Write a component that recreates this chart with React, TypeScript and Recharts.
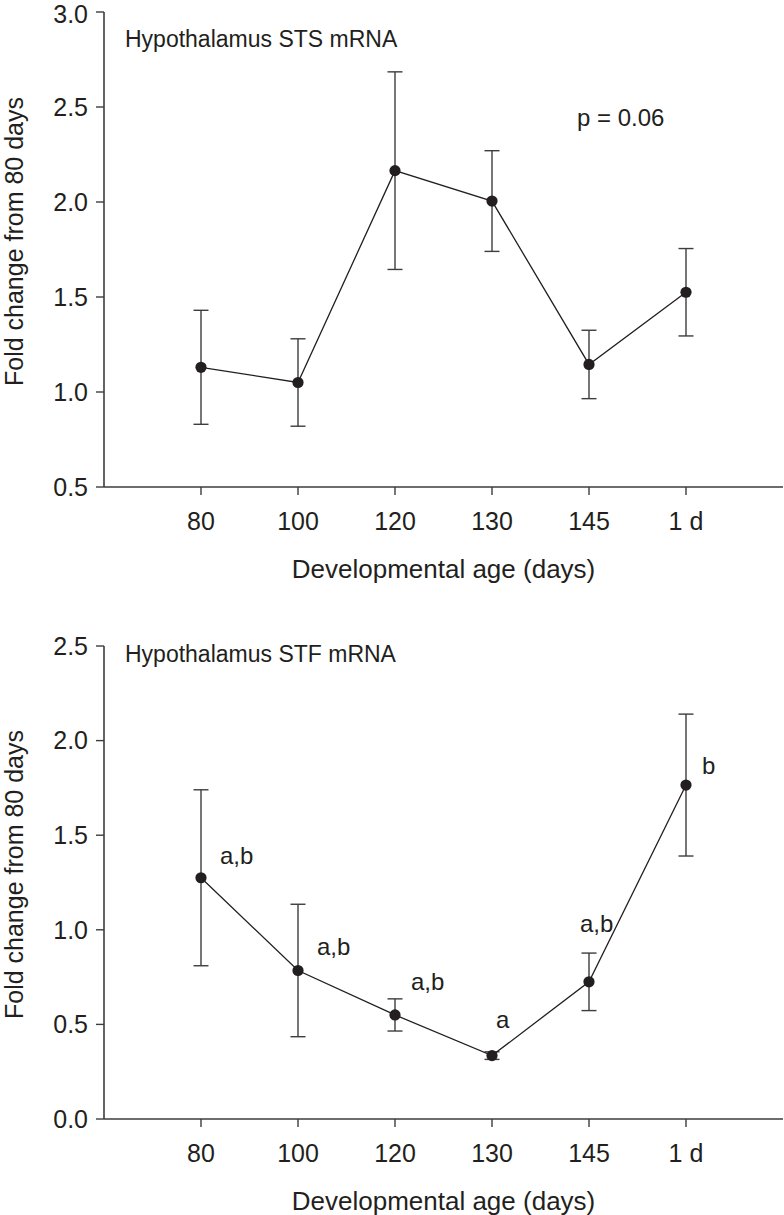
import React from "react";
import { LineChart, Line, XAxis, YAxis, ErrorBar, LabelList } from "recharts";

const categories = ["80", "100", "120", "130", "145", "1 d"];

// Hypothalamus STS mRNA
const stsMean = [1.13, 1.05, 2.165, 2.005, 1.145, 1.525];
const stsErr = [0.3, 0.23, 0.52, 0.265, 0.18, 0.23];
const stsTicks = [0.5, 1, 1.5, 2, 2.5, 3];

// Hypothalamus STF mRNA
const stfMean = [1.275, 0.785, 0.55, 0.335, 0.725, 1.765];
const stfErr = [0.465, 0.35, 0.085, 0.02, 0.152, 0.375];
const stfLetters = ["a,b", "a,b", "a,b", "a", "a,b", "b"];
const stfTicks = [0, 0.5, 1, 1.5, 2, 2.5];

// where each letter sits relative to its dot (dx, dy)
const letterOffsets = [
  [19, -22],
  [19, -24],
  [16, -33],
  [4, -36],
  [-9, -58],
  [16, -20],
];

const INK = "#231f20";
const AXIS = "#3d3d3d";
const FONT = "'Liberation Sans', Arial, Helvetica, sans-serif";

const stsRows = categories.map((c, i) => ({ idx: i, mean: stsMean[i], err: stsErr[i] }));
const stfRows = categories.map((c, i) => ({
  idx: i,
  mean: stfMean[i],
  err: stfErr[i],
  letter: stfLetters[i],
}));

const YTitle = (props: any) => {
  const vb = props.viewBox || {};
  const cx = 14;
  const cy = vb.y + vb.height / 2 - 8;
  return (
    <text
      x={cx}
      y={cy}
      dy="0.355em"
      transform={`rotate(-90 ${cx} ${cy})`}
      textAnchor="middle"
      fill={INK}
      fontSize={25}
      fontFamily={FONT}
    >
      Fold change from 80 days
    </text>
  );
};

const Letter = (p: any) => {
  const i = p.index;
  const x = p.x ?? p.viewBox?.x;
  const y = p.y ?? p.viewBox?.y;
  if (x == null || y == null) return null;
  const [dx, dy] = letterOffsets[i];
  return (
    <text x={x + dx} y={y + dy} dy="0.355em" fill={INK} fontSize={24} fontFamily={FONT}>
      {p.value}
    </text>
  );
};

interface PanelProps {
  rows: any[];
  domain: [number, number];
  ticks: number[];
  height: number;
  top: number;
  bottom: number;
  letters?: boolean;
}

function Panel({ rows, domain, ticks, height, top, bottom, letters }: PanelProps) {
  const tickStyle = { fill: INK, fontSize: 25, fontFamily: FONT };
  return (
    <LineChart width={784} height={height} data={rows} margin={{ top, right: 1, bottom, left: 0 }}>
      <XAxis
        type="number"
        dataKey="idx"
        domain={[-1, 6]}
        ticks={[0, 1, 2, 3, 4, 5]}
        tickFormatter={(v: number) => categories[v]}
        allowDecimals={false}
        height={60}
        tickSize={8}
        tickMargin={17}
        tick={tickStyle}
        axisLine={{ stroke: AXIS, strokeWidth: 1.6 }}
        tickLine={{ stroke: AXIS, strokeWidth: 1.4 }}
        label={{
          value: "Developmental age (days)",
          position: "bottom",
          offset: 13,
          fill: INK,
          fontSize: 26,
          fontFamily: FONT,
        }}
      />
      <YAxis
        type="number"
        domain={domain}
        ticks={ticks}
        width={104}
        tickFormatter={(v: number) => v.toFixed(1)}
        tickSize={8}
        tickMargin={8}
        tick={tickStyle}
        axisLine={{ stroke: AXIS, strokeWidth: 1.6 }}
        tickLine={{ stroke: AXIS, strokeWidth: 1.4 }}
        label={<YTitle />}
      />
      <Line
        type="linear"
        dataKey="mean"
        stroke={INK}
        strokeWidth={1.3}
        dot={{ r: 5.6, fill: INK, stroke: "none" }}
        activeDot={false}
        isAnimationActive={false}
      >
        <ErrorBar dataKey="err" direction="y" width={7.5} stroke={AXIS} strokeWidth={1.4} />
        {letters && <LabelList dataKey="letter" content={<Letter />} />}
      </Line>
    </LineChart>
  );
}

const textStyle: React.CSSProperties = {
  position: "absolute",
  fontFamily: FONT,
  fontSize: 23,
  lineHeight: "24px",
  color: INK,
  whiteSpace: "nowrap",
};

export default function App() {
  return (
    <div style={{ position: "absolute", left: 0, top: 0, width: 784, height: 1215, background: "#fff" }}>
      <div style={{ position: "absolute", left: 0, top: 0 }}>
        <Panel rows={stsRows} domain={[0.5, 3]} ticks={stsTicks} height={600} top={12} bottom={53} />
      </div>
      <div style={{ position: "absolute", left: 0, top: 600 }}>
        <Panel rows={stfRows} domain={[0, 2.5]} ticks={stfTicks} height={615} top={46} bottom={36} letters />
      </div>
      <div style={{ ...textStyle, left: 125, top: 27 }}>Hypothalamus STS mRNA</div>
      <div style={{ ...textStyle, left: 577, top: 106, fontSize: 24 }}>p = 0.06</div>
      <div style={{ ...textStyle, left: 125, top: 642 }}>Hypothalamus STF mRNA</div>
    </div>
  );
}
